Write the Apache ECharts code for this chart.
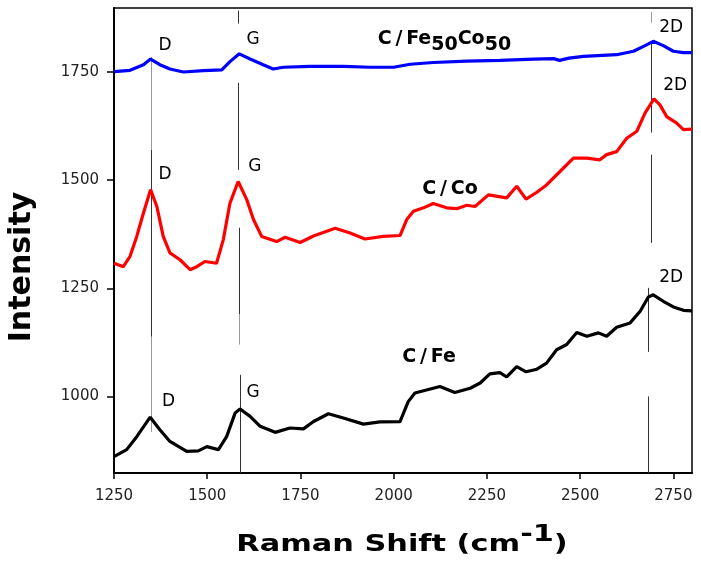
<!DOCTYPE html>
<html>
<head>
<meta charset="utf-8">
<script src="https://cdn.jsdelivr.net/npm/echarts@6/dist/echarts.min.js"></script>
<style>
  html, body { margin: 0; padding: 0; background: #fff; }
  #chart { width: 701px; height: 572px; }
</style>
</head>
<body>
<div id="chart"></div>
<script>
// Raman spectra, values (shift in cm-1, intensity a.u.)
const feCoShift = [1250, 1293, 1329, 1348, 1373, 1400, 1436, 1490, 1539, 1561, 1586, 1615, 1650, 1677, 1704, 1776, 1865, 1937, 2000, 2044, 2106, 2196, 2285, 2375, 2429, 2445, 2470, 2509, 2598, 2643, 2674, 2696, 2723, 2750, 2777, 2800];
const feCoIntensity = [1751, 1754, 1767, 1780, 1767, 1757, 1750, 1753, 1755, 1774, 1792, 1780, 1767, 1757, 1761, 1763, 1763, 1761, 1761, 1768, 1772, 1775, 1777, 1780, 1781, 1777, 1782, 1786, 1790, 1798, 1811, 1821, 1811, 1798, 1795, 1795];

const coShift = [1250, 1275, 1293, 1311, 1329, 1348, 1365, 1382, 1400, 1427, 1454, 1472, 1494, 1525, 1543, 1561, 1583, 1606, 1624, 1646, 1686, 1709, 1749, 1785, 1843, 1883, 1923, 1972, 2017, 2035, 2053, 2080, 2106, 2142, 2169, 2196, 2218, 2254, 2303, 2330, 2355, 2384, 2410, 2446, 2482, 2518, 2553, 2571, 2598, 2625, 2652, 2674, 2698, 2714, 2732, 2759, 2777, 2800];
const coIntensity = [1308, 1300, 1324, 1370, 1424, 1478, 1439, 1370, 1332, 1316, 1293, 1300, 1312, 1308, 1362, 1447, 1497, 1455, 1409, 1370, 1358, 1368, 1356, 1371, 1389, 1378, 1364, 1370, 1372, 1409, 1428, 1436, 1446, 1436, 1434, 1442, 1439, 1466, 1459, 1486, 1456, 1472, 1489, 1520, 1551, 1551, 1547, 1559, 1566, 1597, 1613, 1655, 1688, 1674, 1647, 1632, 1617, 1618];

const feShift = [1250, 1284, 1311, 1347, 1373, 1400, 1445, 1476, 1499, 1530, 1552, 1575, 1588, 1615, 1642, 1682, 1722, 1758, 1785, 1825, 1865, 1919, 1963, 2017, 2039, 2057, 2088, 2124, 2164, 2205, 2232, 2258, 2285, 2303, 2330, 2355, 2384, 2410, 2437, 2464, 2491, 2518, 2549, 2571, 2598, 2634, 2661, 2683, 2696, 2723, 2750, 2777, 2800];
const feIntensity = [861, 877, 907, 952, 923, 896, 873, 874, 884, 877, 907, 962, 971, 954, 931, 917, 927, 925, 942, 960, 950, 936, 941, 942, 988, 1008, 1015, 1023, 1009, 1019, 1031, 1052, 1055, 1045, 1069, 1057, 1063, 1077, 1108, 1120, 1148, 1139, 1147, 1139, 1160, 1170, 1197, 1230, 1235, 1220, 1207, 1199, 1198];

const yTickValues = [1000, 1250, 1500, 1750];

// vertical peak markers: [shift, from, to]
const peakLinesDark = [
  [1351, 1570, 1138],
  [1584, 1892, 1862], [1584, 1725, 1524], [1586, 1390, 1190], [1588, 1050, 823],
  [2692, 1818, 1610], [2692, 1559, 1355], [2683, 1251, 1103], [2683, 1000, 823]
];
const peakLinesLight = [
  [1351, 1785, 1570], [1351, 1138, 918],
  [1586, 1190, 1120],
  [2692, 1889, 1864]
];

// text annotations: [shift, intensity, text]
const peakLabels = [
  [1387, 1812, 'D'], [1623, 1825, 'G'], [2744, 1853, '2D'],
  [1387, 1512, 'D'], [1628, 1531, 'G'], [2755, 1718, '2D'],
  [1396, 989, 'D'], [1623, 1009, 'G'], [2744, 1274, '2D']
];
const sampleLabels = [
  [2136, 1812, 'C/Fe50Co50'],
  [2151, 1480, 'C/Co'],
  [2095, 1092, 'C/Fe']
];

const zip = (xs, ys) => xs.map((x, i) => [x, ys[i]]);
const toSegments = list => list.map(s => [{ coord: [s[0], s[1]] }, { coord: [s[0], s[2]] }]);

// digits become subscripts, slash gets thin spaces
function sampleRich(text) {
  const t = text.replace('/', '\u2009/\u2009');
  return '{b|' + t.replace(/(\d+)/g, '}{s|$1}{b|') + '}';
}

const chart = echarts.init(document.getElementById('chart'), null, { renderer: 'canvas' });

const curveStyle = color => ({
  type: 'line',
  showSymbol: false,
  symbol: 'none',
  silent: true,
  z: 5,
  lineStyle: { color: color, width: 3.2 },
  itemStyle: { color: color }
});

const tickText = { fontFamily: 'DejaVu Sans', fontSize: 15, color: '#222', formatter: v => String(v) };

const option = {
  animation: false,
  grid: {
    left: 114, right: 9, top: 8, bottom: 99,
    show: true, borderColor: '#000', borderWidth: 1.5, backgroundColor: 'transparent'
  },
  xAxis: {
    type: 'value',
    min: 1250, max: 2800, interval: 250,
    axisLine: { show: true, onZero: false, lineStyle: { color: '#000', width: 2 } },
    axisTick: { show: true, length: 6, lineStyle: { color: '#000', width: 1.5 } },
    axisLabel: Object.assign({ margin: 16, showMaxLabel: false }, tickText),
    splitLine: { show: false }
  },
  yAxis: {
    type: 'value',
    min: 823, max: 1898,
    axisLine: { show: true, onZero: false, lineStyle: { color: '#000', width: 2 } },
    axisTick: { show: true, length: 7, customValues: yTickValues, lineStyle: { color: '#000', width: 1.5 } },
    axisLabel: Object.assign({ customValues: yTickValues, margin: 15 }, tickText),
    splitLine: { show: false }
  },
  graphic: [
    {
      type: 'text', x: 22, y: 267, rotation: Math.PI / 2, silent: true,
      style: { text: 'Intensity', font: 'bold 30px "DejaVu Sans"', fill: '#000', align: 'center', verticalAlign: 'middle' }
    },
    {
      type: 'text', x: 402, y: 545, scaleX: 1.32, silent: true,
      style: {
        text: '{m|Raman Shift (cm}{p|-1}{m|)}',
        align: 'center', verticalAlign: 'middle', fill: '#000',
        rich: {
          m: { fontFamily: 'DejaVu Sans', fontWeight: 'bold', fontSize: 23, lineHeight: 42, fill: '#000' },
          p: { fontFamily: 'DejaVu Sans', fontWeight: 'bold', fontSize: 23, lineHeight: 6, verticalAlign: 'top', fill: '#000' }
        }
      }
    }
  ],
  series: [
    {
      name: 'peaks', type: 'line', data: [], silent: true, z: 1,
      markLine: {
        silent: true, symbol: ['none', 'none'], label: { show: false },
        lineStyle: { type: 'solid', color: '#333', width: 1 },
        data: toSegments(peakLinesDark)
      }
    },
    {
      name: 'peaksLight', type: 'line', data: [], silent: true, z: 1,
      markLine: {
        silent: true, symbol: ['none', 'none'], label: { show: false },
        lineStyle: { type: 'solid', color: '#999', width: 1 },
        data: toSegments(peakLinesLight)
      }
    },
    Object.assign(curveStyle('#0000ff'), { name: 'C/Fe50Co50', data: zip(feCoShift, feCoIntensity) }),
    Object.assign(curveStyle('#ff0000'), { name: 'C/Co', data: zip(coShift, coIntensity) }),
    Object.assign(curveStyle('#000000'), { name: 'C/Fe', data: zip(feShift, feIntensity) }),
    {
      name: 'peakLabels', type: 'scatter', data: peakLabels, symbolSize: 0, silent: true, z: 6,
      itemStyle: { opacity: 1 },
      label: {
        show: true, position: 'inside', formatter: p => p.value[2],
        fontFamily: 'DejaVu Sans', fontSize: 17, color: '#000'
      }
    },
    {
      name: 'sampleLabels', type: 'scatter', data: sampleLabels, symbolSize: 0, silent: true, z: 6,
      itemStyle: { opacity: 1 },
      label: {
        show: true, position: 'inside', formatter: p => sampleRich(p.value[2]),
        rich: {
          b: { fontFamily: 'DejaVu Sans', fontWeight: 'bold', fontSize: 19, color: '#000', lineHeight: 18, verticalAlign: 'top' },
          s: { fontFamily: 'DejaVu Sans', fontWeight: 'bold', fontSize: 19, color: '#000', lineHeight: 32, verticalAlign: 'middle' }
        }
      }
    }
  ]
};

chart.setOption(option);
</script>
</body>
</html>
